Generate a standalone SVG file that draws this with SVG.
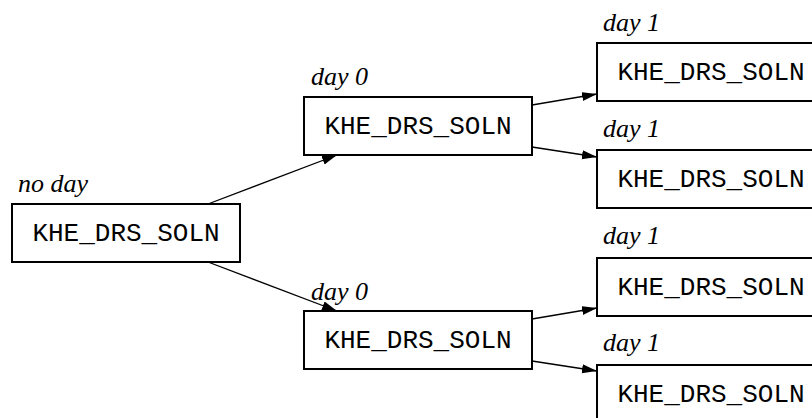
<svg xmlns="http://www.w3.org/2000/svg" width="812" height="418" viewBox="0 0 812 418">
  <style>
    .box { fill: #ffffff; stroke: #000000; stroke-width: 2; }
    .name { font-family: "Liberation Mono", "Courier New", monospace; font-size: 26px; fill: #000000; text-anchor: middle; }
    .day { font-family: "Liberation Serif", "Times New Roman", serif; font-style: italic; font-size: 26px; fill: #000000; }
    .edge { stroke: #000000; stroke-width: 1.3; fill: none; marker-end: url(#arrow); }
  </style>
  <defs>
    <marker id="arrow" markerUnits="userSpaceOnUse" markerWidth="16" markerHeight="10" refX="15" refY="4.5" orient="auto">
      <path d="M0,0 L15,4.5 L0,9 Z" fill="#000000"/>
    </marker>
  </defs>

  <rect width="812" height="418" fill="#ffffff"/>

  <!-- connectors -->
  <g id="connectors">
    <line class="edge" x1="208" y1="204" x2="337" y2="155"/>
    <line class="edge" x1="208" y1="262" x2="337" y2="311"/>
    <line class="edge" x1="532" y1="105" x2="597" y2="94"/>
    <line class="edge" x1="532" y1="147" x2="597" y2="157"/>
    <line class="edge" x1="532" y1="319" x2="597" y2="308"/>
    <line class="edge" x1="532" y1="361" x2="597" y2="371"/>
  </g>

  <!-- root solution -->
  <g id="root">
    <text class="day" x="18" y="192">no day</text>
    <rect class="box" x="12" y="204" width="228" height="58"/>
    <text class="name" x="126" y="240.5">KHE_DRS_SOLN</text>
  </g>

  <!-- day 0 solutions -->
  <g id="day0-a">
    <text class="day" x="311" y="85">day 0</text>
    <rect class="box" x="304" y="97" width="228" height="58"/>
    <text class="name" x="418" y="133.5">KHE_DRS_SOLN</text>
  </g>
  <g id="day0-b">
    <rect class="box" x="304" y="311" width="228" height="58"/>
    <text class="name" x="418" y="347.5">KHE_DRS_SOLN</text>
  </g>

  <!-- day 1 solutions -->
  <g id="day1-a">
    <text class="day" x="603" y="31">day 1</text>
    <rect class="box" x="597" y="43" width="228" height="58"/>
    <text class="name" x="711" y="79.5">KHE_DRS_SOLN</text>
  </g>
  <g id="day1-b">
    <text class="day" x="603" y="137">day 1</text>
    <rect class="box" x="597" y="150" width="228" height="58"/>
    <text class="name" x="711" y="186.5">KHE_DRS_SOLN</text>
  </g>
  <g id="day1-c">
    <text class="day" x="603" y="244">day 1</text>
    <rect class="box" x="597" y="258" width="228" height="58"/>
    <text class="name" x="711" y="294.5">KHE_DRS_SOLN</text>
  </g>
  <g id="day1-d">
    <text class="day" x="603" y="351">day 1</text>
    <rect class="box" x="597" y="365" width="228" height="58"/>
    <text class="name" x="711" y="401.5">KHE_DRS_SOLN</text>
  </g>

  <!-- label drawn over the lower connector -->
  <text class="day" x="311" y="300">day 0</text>
</svg>
